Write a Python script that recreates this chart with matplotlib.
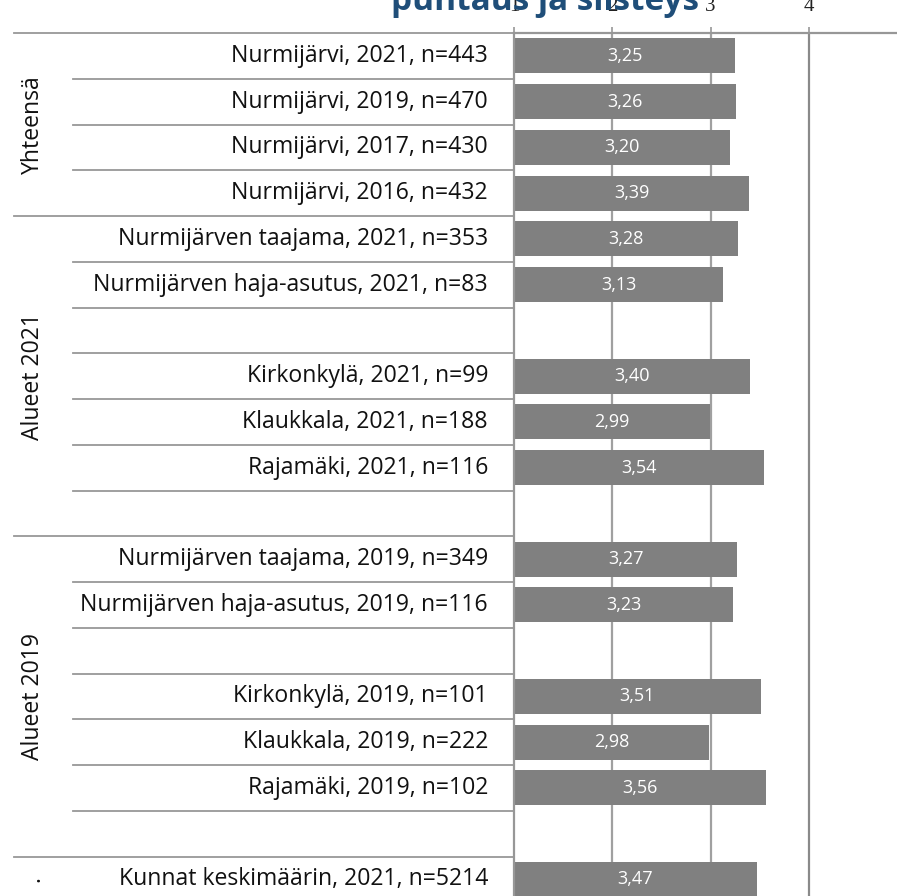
import numpy as np
import matplotlib
matplotlib.use("Agg")
import matplotlib.pyplot as plt
from matplotlib import transforms

# ---------------- data ----------------
row_labels = [
    "Nurmijärvi, 2021, n=443",
    "Nurmijärvi, 2019, n=470",
    "Nurmijärvi, 2017, n=430",
    "Nurmijärvi, 2016, n=432",
    "Nurmijärven taajama, 2021, n=353",
    "Nurmijärven haja-asutus, 2021, n=83",
    "",
    "Kirkonkylä, 2021, n=99",
    "Klaukkala, 2021, n=188",
    "Rajamäki, 2021, n=116",
    "",
    "Nurmijärven taajama, 2019, n=349",
    "Nurmijärven haja-asutus, 2019, n=116",
    "",
    "Kirkonkylä, 2019, n=101",
    "Klaukkala, 2019, n=222",
    "Rajamäki, 2019, n=102",
    "",
    "Kunnat keskimäärin, 2021, n=5214",
]
values = [3.25, 3.26, 3.20, 3.39, 3.28, 3.13, None, 3.40, 2.99, 3.54, None,
          3.27, 3.23, None, 3.51, 2.98, 3.56, None, 3.47]
group_names = ["Yhteensä", "Alueet 2021", "Alueet 2019", "."]
group_starts = [0, 4, 11, 18]
group_ends = [3, 10, 17, 18]
x_ticks = [1, 2, 3, 4]
title = "puhtaus ja siisteys"

# ---------------- layout ----------------
W, H = 897, 896
fig = plt.figure(figsize=(W / 100, H / 100), dpi=100)
plt.rcParams['font.family'] = ['Open Sans', 'DejaVu Sans']

row_h = 45.75
top_px = 33
n_rows = len(row_labels)
ax_left_px = 514
ax_bottom_px = top_px + n_rows * row_h
ax = fig.add_axes([ax_left_px / W, 1 - ax_bottom_px / H,
                   (W - ax_left_px) / W, (ax_bottom_px - top_px) / H])
ax.set_ylim(n_rows - 0.5, -0.5)
px_per_unit = 98.3
ax.set_xlim(1, 1 + (W - ax_left_px) / px_per_unit)

bar_col = "#808080"
line_col = "#979797"

y = np.arange(n_rows)
vals = np.array([np.nan if v is None else v for v in values])
mask = ~np.isnan(vals)
ax.barh(y[mask], vals[mask] - 1, left=1, height=0.765, color=bar_col, zorder=2)

for yi, v in zip(y[mask], vals[mask]):
    ax.text((1 + v) / 2, yi, f"{v:.2f}".replace(".", ","), ha="center", va="center",
            color="white", fontsize=13, zorder=3)

# gridlines
for gx in [2, 3]:
    ax.axvline(gx, color="#a0a0a0", lw=1.6, zorder=1)
ax.axvline(4, color="#8a8a8a", lw=1.6, zorder=1)

for s in ["right", "bottom"]:
    ax.spines[s].set_visible(False)
ax.spines["left"].set_color(line_col)
ax.spines["left"].set_linewidth(1.6)
ax.spines["top"].set_color(line_col)
ax.spines["top"].set_linewidth(1.6)

ax.set_yticks([])
ax.xaxis.tick_top()
ax.set_xticks(x_ticks)
ax.set_xticklabels([str(t) for t in x_ticks], fontfamily="Liberation Serif", fontsize=15)
ax.tick_params(axis="x", direction="out", length=4.5, width=1.2, color=line_col,
               pad=8, labelcolor="#222222")

# label area
trans = transforms.blended_transform_factory(fig.transFigure, ax.transData)
for k in range(n_rows):
    yb = k - 0.5
    x0 = 14 if k in group_starts else 73
    ax.plot([x0 / W, ax_left_px / W], [yb, yb], transform=trans, color=line_col,
            lw=1.3, clip_on=False, zorder=1)

for yi, lab in zip(y, row_labels):
    if lab:
        ax.text(488 / W, yi, lab, transform=trans, ha="right", va="center",
                fontsize=16.6, color="#111111")

for name, s, e in zip(group_names, group_starts, group_ends):
    ax.text(33 / W, (s + e) / 2, name, transform=trans, ha="center", va="center",
            rotation=90, fontsize=16.6, color="#111111")

fig.text(545 / W, 1 - 10 / H, title, ha="center", va="baseline",
         fontsize=24, fontweight="bold", color="#1F4E79")

fig.savefig("out.png", dpi=100)
